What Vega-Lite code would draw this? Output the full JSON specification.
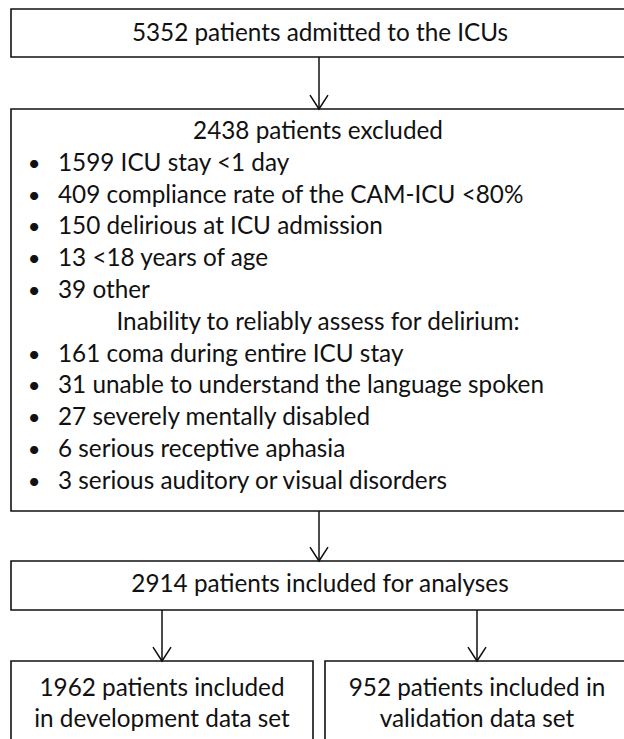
{
  "$schema": "https://vega.github.io/schema/vega-lite/v6.json",
  "width": 624,
  "height": 739,
  "padding": 0,
  "autosize": {"type": "none"},
  "background": "white",
  "config": {"view": {"stroke": null}},
  "datasets": {
    "boxes": [
      {"box": "admitted", "x1": 11, "x2": 640, "y1": 9, "y2": 57},
      {"box": "excluded", "x1": 11, "x2": 640, "y1": 109, "y2": 511},
      {"box": "included", "x1": 11, "x2": 640, "y1": 561, "y2": 610},
      {"box": "development", "x1": 11, "x2": 313, "y1": 661, "y2": 770},
      {"box": "validation", "x1": 325, "x2": 640, "y1": 661, "y2": 770}
    ],
    "arrows": [
      {"x": 319, "y1": 57, "y2": 109},
      {"x": 319, "y1": 511, "y2": 561},
      {"x": 162, "y1": 610, "y2": 661},
      {"x": 477, "y1": 610, "y2": 661}
    ],
    "titles": [
      {"label": "5352 patients admitted to the ICUs", "x": 320, "y": 34},
      {"label": "2438 patients excluded", "x": 318, "y": 132},
      {"label": "Inability to reliably assess for delirium:", "x": 318, "y": 323},
      {"label": "2914 patients included for analyses", "x": 320, "y": 585},
      {"label": "1962 patients included", "x": 162, "y": 689},
      {"label": "in development data set", "x": 162, "y": 720},
      {"label": "952 patients included in", "x": 477, "y": 689},
      {"label": "validation data set", "x": 477, "y": 720}
    ],
    "items": [
      {"label": "1599 ICU stay <1 day", "x": 58, "y": 164, "bx": 34},
      {"label": "409 compliance rate of the CAM-ICU <80%", "x": 58, "y": 196, "bx": 34},
      {"label": "150 delirious at ICU admission", "x": 58, "y": 227, "bx": 34},
      {"label": "13 <18 years of age", "x": 58, "y": 259, "bx": 34},
      {"label": "39 other", "x": 58, "y": 291, "bx": 34},
      {"label": "161 coma during entire ICU stay", "x": 58, "y": 355, "bx": 34},
      {"label": "31 unable to understand the language spoken", "x": 58, "y": 386, "bx": 34},
      {"label": "27 severely mentally disabled", "x": 58, "y": 418, "bx": 34},
      {"label": "6 serious receptive aphasia", "x": 58, "y": 450, "bx": 34},
      {"label": "3 serious auditory or visual disorders", "x": 58, "y": 482, "bx": 34}
    ]
  },
  "layer": [
    {
      "data": {"name": "boxes"},
      "mark": {"type": "rect", "fill": "white", "stroke": "#111111", "strokeWidth": 1.6, "clip": true},
      "encoding": {
        "x": {"field": "x1", "type": "quantitative", "scale": {"domain": [0, 624], "nice": false, "zero": false}, "axis": null},
        "x2": {"field": "x2"},
        "y": {"field": "y1", "type": "quantitative", "scale": {"domain": [0, 739], "nice": false, "zero": false, "reverse": true}, "axis": null},
        "y2": {"field": "y2"}
      }
    },
    {
      "data": {"name": "arrows"},
      "mark": {"type": "rule", "stroke": "#111111", "strokeWidth": 1.5},
      "encoding": {
        "x": {"field": "x", "type": "quantitative"},
        "y": {"field": "y1", "type": "quantitative"},
        "y2": {"field": "y2"}
      }
    },
    {
      "data": {"name": "arrows"},
      "mark": {"type": "point", "shape": "M-1,-1.55L0,0L1,-1.55", "size": 324, "filled": false, "stroke": "#111111", "strokeWidth": 1.5, "opacity": 1},
      "encoding": {
        "x": {"field": "x", "type": "quantitative"},
        "y": {"field": "y2", "type": "quantitative"}
      }
    },
    {
      "data": {"name": "titles"},
      "mark": {"type": "text", "font": "Lato", "fontSize": 24.3, "align": "center", "baseline": "middle", "color": "#111111"},
      "encoding": {
        "x": {"field": "x", "type": "quantitative"},
        "y": {"field": "y", "type": "quantitative"},
        "text": {"field": "label"}
      }
    },
    {
      "data": {"name": "items"},
      "mark": {"type": "text", "font": "Lato", "fontSize": 24.3, "align": "left", "baseline": "middle", "color": "#111111"},
      "encoding": {
        "x": {"field": "x", "type": "quantitative"},
        "y": {"field": "y", "type": "quantitative"},
        "text": {"field": "label"}
      }
    },
    {
      "data": {"name": "items"},
      "mark": {"type": "text", "font": "Lato", "fontSize": 22, "align": "center", "baseline": "middle", "color": "#111111"},
      "encoding": {
        "x": {"field": "bx", "type": "quantitative"},
        "y": {"field": "y", "type": "quantitative"},
        "text": {"value": "•"}
      }
    }
  ]
}
